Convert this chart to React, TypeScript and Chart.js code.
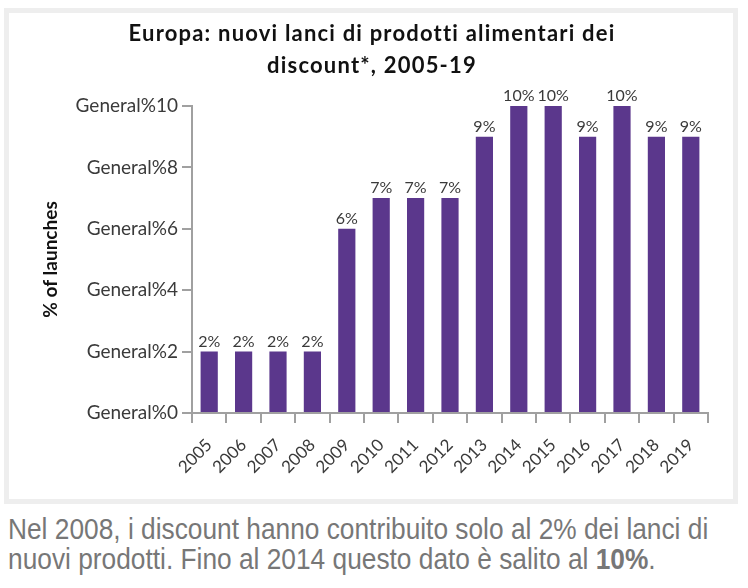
import React, { useEffect, useRef } from "react";
import { Chart, registerables } from "chart.js";

Chart.register(...registerables);

const years = ["2005", "2006", "2007", "2008", "2009", "2010", "2011", "2012", "2013", "2014", "2015", "2016", "2017", "2018", "2019"];
const shares = [2, 2, 2, 2, 6, 7, 7, 7, 9, 10, 10, 9, 10, 9, 9];
const titleLines = ["Europa: nuovi lanci di prodotti alimentari dei", "discount*, 2005-19"];
const yAxisTitle = "% of launches";
const tickPrefix = "General%";

const FONT = "Lato, 'Open Sans', sans-serif";
const AXIS_COLOR = "#a0a0a0";
const TEXT_COLOR = "#3a3a3a";
const BAR_COLOR = "#5b378c";

const valueLabels = {
  id: "valueLabels",
  afterDatasetsDraw(chart: any) {
    const ctx = chart.ctx;
    const meta = chart.getDatasetMeta(0);
    ctx.save();
    ctx.font = `16px ${FONT}`;
    ctx.fillStyle = TEXT_COLOR;
    ctx.textAlign = "center";
    ctx.textBaseline = "alphabetic";
    meta.data.forEach((el: any, i: number) => {
      const v = chart.data.datasets[0].data[i];
      ctx.fillText(`${v}%`, el.x, el.y - 5);
    });
    ctx.restore();
  },
};

const spacedTitle = {
  id: "spacedTitle",
  afterDraw(chart: any) {
    const ctx = chart.ctx;
    ctx.save();
    ctx.font = `bold 22px ${FONT}`;
    ctx.fillStyle = "#111";
    ctx.textAlign = "center";
    ctx.textBaseline = "alphabetic";
    try {
      (ctx as any).letterSpacing = "1.2px";
    } catch (e) {}
    const cx = chart.width / 2 + 1;
    titleLines.forEach((line, i) => {
      ctx.fillText(line, cx, 28 + i * 32);
    });
    ctx.restore();
  },
};

export default function App() {
  const ref = useRef<HTMLCanvasElement | null>(null);

  useEffect(() => {
    if (!ref.current) return;
    const chart = new Chart(ref.current, {
      type: "bar",
      data: {
        labels: years,
        datasets: [
          {
            data: shares,
            backgroundColor: BAR_COLOR,
            borderWidth: 0,
            categoryPercentage: 1,
            barPercentage: 0.5,
          },
        ],
      },
      options: {
        responsive: false,
        animation: false,
        devicePixelRatio: 1,
        layout: { padding: { left: 27, right: 25, top: 93, bottom: 0 } },
        plugins: {
          legend: { display: false },
          tooltip: { enabled: false },
          title: { display: false },
        },
        scales: {
          x: {
            afterFit: (s: any) => {
              s.height = 86;
            },
            grid: {
              display: true,
              drawOnChartArea: false,
              drawTicks: true,
              tickLength: 10,
              color: AXIS_COLOR,
              lineWidth: 2,
              offset: true,
            },
            border: { display: true, color: AXIS_COLOR, width: 2 },
            ticks: {
              color: TEXT_COLOR,
              font: { family: FONT, size: 17 },
              minRotation: 45,
              maxRotation: 45,
              padding: 12,
              autoSkip: false,
            },
          },
          y: {
            min: 0,
            max: 10,
            afterFit: (s: any) => {
              s.width = 156;
            },
            grid: {
              display: true,
              drawOnChartArea: false,
              drawTicks: true,
              tickLength: 10,
              color: AXIS_COLOR,
              lineWidth: 2,
            },
            border: { display: true, color: AXIS_COLOR, width: 2 },
            ticks: {
              stepSize: 2,
              color: TEXT_COLOR,
              font: { family: FONT, size: 19 },
              padding: 4,
              callback: (v: any) => `${tickPrefix}${v}`,
            },
            title: {
              display: true,
              text: yAxisTitle,
              color: "#111",
              font: { family: FONT, size: 19, weight: "bold", lineHeight: 1.2 },
              padding: { top: 3, bottom: 0 },
            },
          },
        },
      },
      plugins: [valueLabels, spacedTitle],
    });
    return () => chart.destroy();
  }, []);

  return (
    <div style={{ position: "absolute", left: 0, top: 0, width: 748, height: 588, background: "#fff" }}>
      <div
        style={{
          position: "absolute",
          left: 4,
          top: 8,
          width: 734,
          height: 496,
          border: "5px solid #eeeeee",
          boxSizing: "border-box",
          background: "#fff",
        }}
      >
        <canvas ref={ref} width={724} height={486} style={{ display: "block", width: 724, height: 486 }} />
      </div>
      <div
        style={{
          position: "absolute",
          left: 8,
          top: 514,
          fontFamily: "'Liberation Sans', Arial, sans-serif",
          fontSize: 26.3,
          lineHeight: "26px",
          color: "#777",
          transform: "scaleY(1.15)",
          transformOrigin: "top left",
          whiteSpace: "nowrap",
        }}
      >
        Nel 2008, i discount hanno contribuito solo al 2% dei lanci di
        <br />
        nuovi prodotti. Fino al 2014 questo dato è salito al <b>10%</b>.
      </div>
    </div>
  );
}
